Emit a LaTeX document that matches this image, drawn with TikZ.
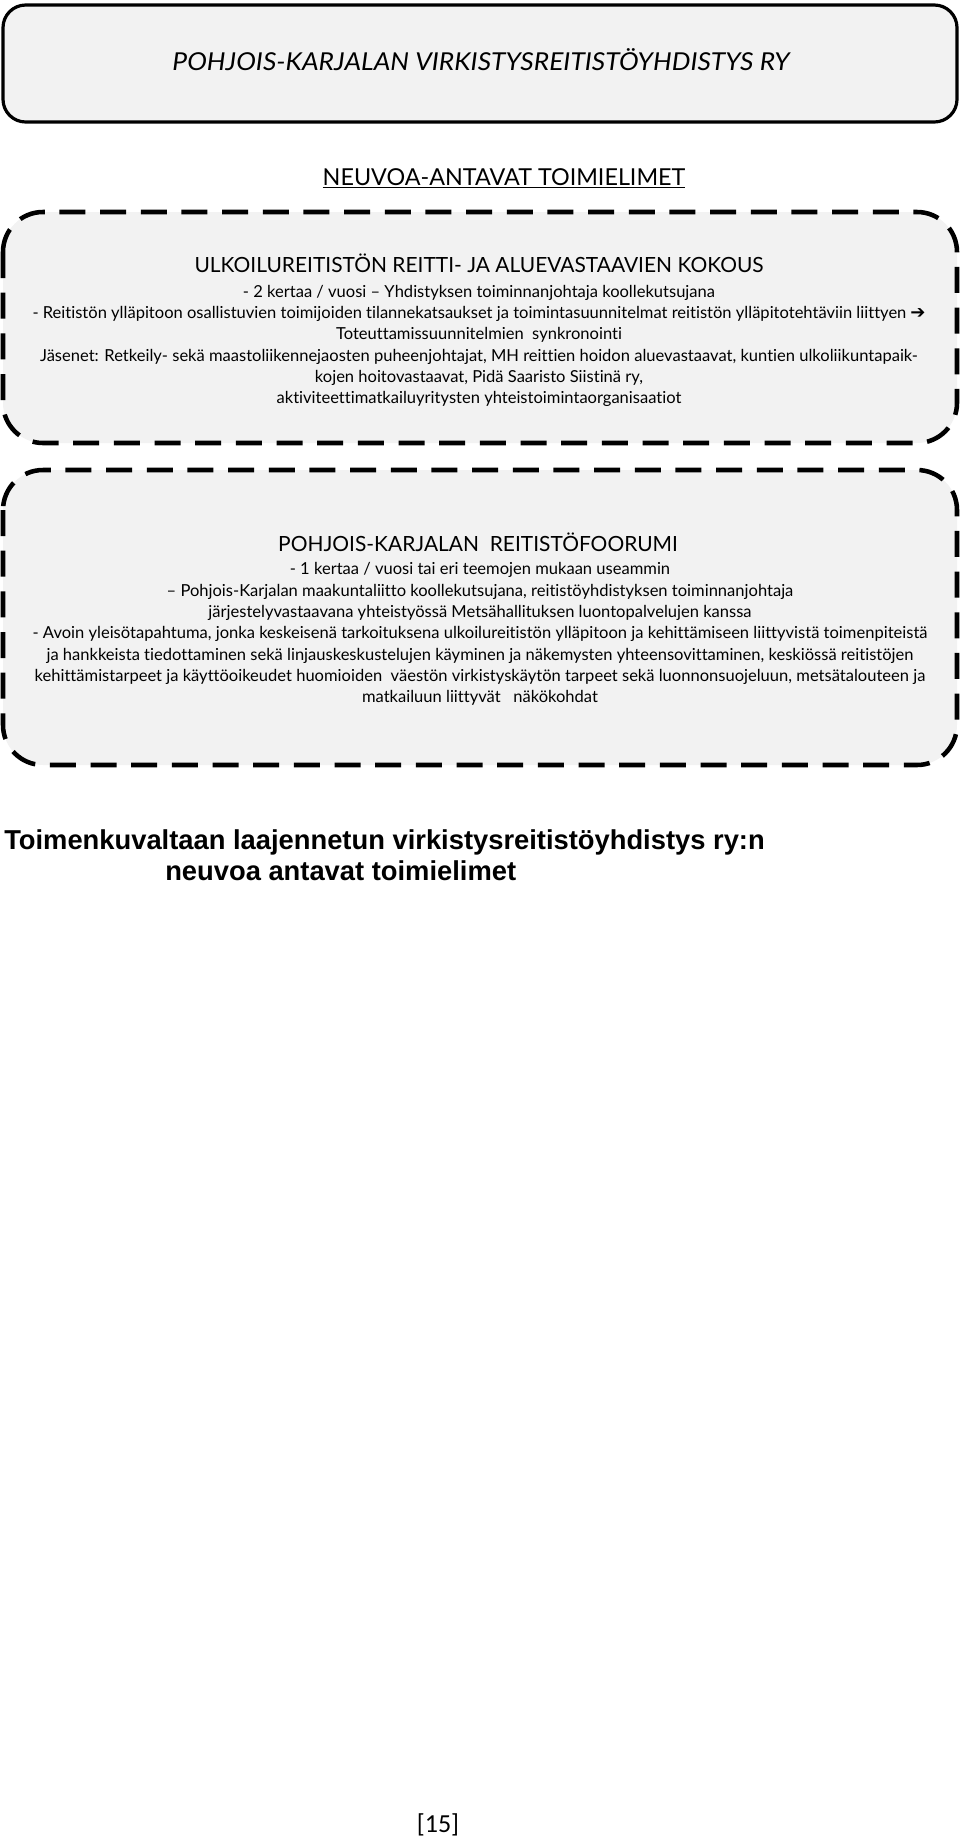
\documentclass[tikz,border=0pt]{standalone}
\usepackage{fontspec}
\setmainfont{Lato}[Ligatures={TeX,NoCommon}]
\newfontfamily\titlefont{Lato}[FakeStretch=1.07,Ligatures={TeX,NoCommon}]
\newfontfamily\captionfont{Liberation Sans}
\newfontfamily\pagefont{Carlito}
\newfontfamily\arrowfont{DejaVu Sans}
\usetikzlibrary{positioning}

\begin{document}
\begin{tikzpicture}[
    x=0.75pt, y=-0.75pt,
    panel/.style={draw, line width=2.4pt, rounded corners=17pt, fill=black!5},
    dashpanel/.style={draw, line width=3.4pt, dash pattern=on 19.5pt off 11pt, rounded corners=30pt, fill=black!5},
    heading/.style={font=\fontsize{15.7}{18}\selectfont, inner sep=0pt},
    bodytext/.style={align=center, font=\fontsize{12.4}{16}\selectfont, inner sep=0pt},
    caption/.style={font=\captionfont\bfseries\fontsize{20.5}{24}\selectfont, inner sep=0pt, anchor=west}
]
    \useasboundingbox (0,0) rectangle (960,1839);

    \draw[panel] (3,5) rectangle (957,122);
    \node[font=\titlefont\itshape\fontsize{18.5}{21}\selectfont] (org) at (481,60) {POHJOIS-KARJALAN VIRKISTYSREITISTÖYHDISTYS RY};
    \node[font=\fontsize{17.5}{20}\selectfont] (advisory) at (504,178) {\underline{NEUVOA-ANTAVAT TOIMIELIMET}};

    \draw[dashpanel] (3,212) rectangle (957,443);
    \node[heading] (meeting) at (479,263) {ULKOILUREITISTÖN REITTI- JA ALUEVASTAAVIEN KOKOUS};
    \node[bodytext] (meetingtext) at (479,346) {- 2 kertaa / vuosi – Yhdistyksen toiminnanjohtaja koollekutsujana\\
        - Reitistön ylläpitoon osallistuvien toimijoiden tilannekatsaukset ja toimintasuunnitelmat reitistön ylläpitotehtäviin liittyen {\arrowfont\fontsize{13.5}{16}\selectfont ➔}\\
        Toteuttamissuunnitelmien\ \ synkronointi\\
        Jäsenet: Retkeily- sekä maastoliikennejaosten puheenjohtajat, MH reittien hoidon aluevastaavat, kuntien ulkoliikuntapaik-\\
        kojen hoitovastaavat, Pidä Saaristo Siistinä ry,\\
        aktiviteettimatkailuyritysten yhteistoimintaorganisaatiot};

    \draw[dashpanel] (3,470) rectangle (957,765);
    \node[heading] (forum) at (478,542) {POHJOIS-KARJALAN\ \ REITISTÖFOORUMI};
    \node[bodytext] (forumtext) at (480,634) {- 1 kertaa / vuosi tai eri teemojen mukaan useammin\\
        – Pohjois-Karjalan maakuntaliitto koollekutsujana, reitistöyhdistyksen toiminnanjohtaja\\
        järjestelyvastaavana yhteistyössä Metsähallituksen luontopalvelujen kanssa\\
        - Avoin yleisötapahtuma, jonka keskeisenä tarkoituksena ulkoilureitistön ylläpitoon ja kehittämiseen liittyvistä toimenpiteistä\\
        ja hankkeista tiedottaminen sekä linjauskeskustelujen käyminen ja näkemysten yhteensovittaminen, keskiössä reitistöjen\\
        kehittämistarpeet ja käyttöoikeudet huomioiden\ \ väestön virkistyskäytön tarpeet sekä luonnonsuojeluun, metsätalouteen ja\\
        matkailuun liittyvät\ \ \ näkökohdat};

    \node[caption] (caption1) at (4,842) {Toimenkuvaltaan laajennetun virkistysreitistöyhdistys ry:n};
    \node[caption] (caption2) at (165,871) {neuvoa antavat toimielimet};

    \node[font=\pagefont\fontsize{19.5}{22}\selectfont] (page) at (438,1825) {[15]};
\end{tikzpicture}
\end{document}
